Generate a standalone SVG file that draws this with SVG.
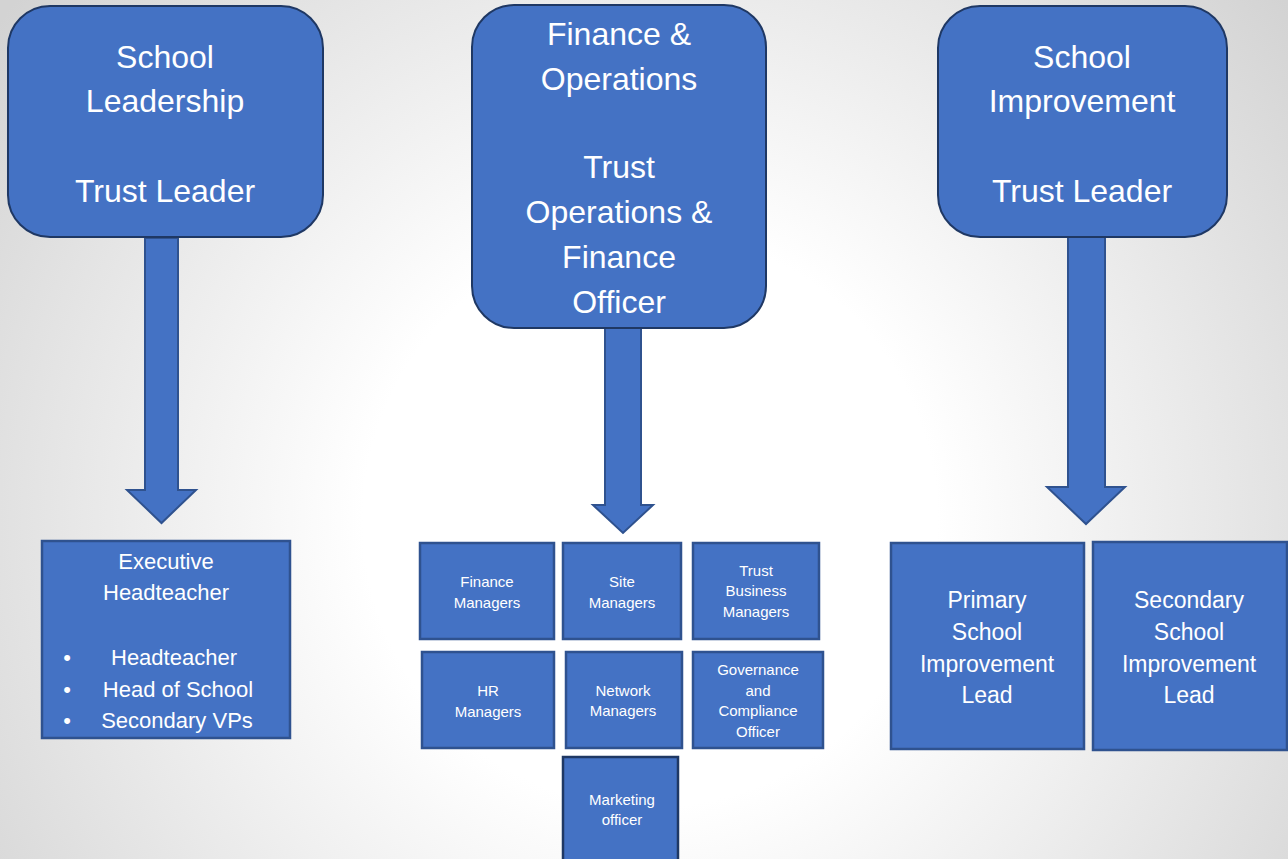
<svg xmlns="http://www.w3.org/2000/svg" width="1288" height="859" viewBox="0 0 1288 859">
<defs>
<radialGradient id="bg" gradientUnits="userSpaceOnUse" cx="650" cy="520" r="820">
<stop offset="0" stop-color="#ffffff"/>
<stop offset="0.35" stop-color="#ffffff"/>
<stop offset="1" stop-color="#d3d3d3"/>
</radialGradient>
<style>
.top{fill:#4472C4;stroke:#1F3864;stroke-width:2}
.box{fill:#4472C4;stroke:#2F528F;stroke-width:2.5}
.arrow{fill:#4472C4;stroke:#2F528F;stroke-width:2}
text{font-family:"Liberation Sans",Arial,sans-serif;fill:#ffffff;text-anchor:middle}
.t32{font-size:32px}
.t23{font-size:23px}
.t22{font-size:22px}
.t15{font-size:15px}
</style>
</defs>
<rect x="0" y="0" width="1288" height="859" fill="url(#bg)"/>

<g id="connectors">
<polygon class="arrow" points="145,238 178,238 178,490 196,490 161.5,523 127,490 145,490"/>
<polygon class="arrow" points="605,328 641,328 641,505 653,505 623,533 593,505 605,505"/>
<polygon class="arrow" points="1068,237 1105,237 1105,487 1125,487 1086,524 1047,487 1068,487"/>
</g>

<g id="school-leadership">
<rect class="top" x="8" y="6" width="315" height="231" rx="42"/>
<text class="t32" x="165" y="68">School</text>
<text class="t32" x="165" y="112">Leadership</text>
<text class="t32" x="165" y="202">Trust Leader</text>
</g>

<g id="finance-operations">
<rect class="top" x="472" y="5" width="294" height="323" rx="42"/>
<text class="t32" x="619" y="45">Finance &amp;</text>
<text class="t32" x="619" y="90">Operations</text>
<text class="t32" x="619" y="178">Trust</text>
<text class="t32" x="619" y="223">Operations &amp;</text>
<text class="t32" x="619" y="268">Finance</text>
<text class="t32" x="619" y="313">Officer</text>
</g>

<g id="school-improvement">
<rect class="top" x="938" y="6" width="289" height="231" rx="42"/>
<text class="t32" x="1082" y="68">School</text>
<text class="t32" x="1082" y="112">Improvement</text>
<text class="t32" x="1082" y="202">Trust Leader</text>
</g>

<g id="executive-headteacher">
<rect class="box" x="42" y="541" width="248" height="197"/>
<text class="t22" x="166" y="569">Executive</text>
<text class="t22" x="166" y="600">Headteacher</text>
<text class="t22" x="67" y="665">•</text>
<text class="t22" x="67" y="697">•</text>
<text class="t22" x="67" y="728">•</text>
<text class="t22" x="174" y="665">Headteacher</text>
<text class="t22" x="178" y="697">Head of School</text>
<text class="t22" x="177" y="728">Secondary VPs</text>
</g>

<g id="finance-managers">
<rect class="box" x="420" y="543" width="134" height="96"/>
<text class="t15" x="487" y="587">Finance</text>
<text class="t15" x="487" y="608">Managers</text>
</g>
<g id="site-managers">
<rect class="box" x="563" y="543" width="118" height="96"/>
<text class="t15" x="622" y="587">Site</text>
<text class="t15" x="622" y="608">Managers</text>
</g>
<g id="trust-business-managers">
<rect class="box" x="693" y="543" width="126" height="96"/>
<text class="t15" x="756" y="576">Trust</text>
<text class="t15" x="756" y="596">Business</text>
<text class="t15" x="756" y="617">Managers</text>
</g>
<g id="hr-managers">
<rect class="box" x="422" y="652" width="132" height="96"/>
<text class="t15" x="488" y="696">HR</text>
<text class="t15" x="488" y="717">Managers</text>
</g>
<g id="network-managers">
<rect class="box" x="566" y="652" width="116" height="96"/>
<text class="t15" x="623" y="696">Network</text>
<text class="t15" x="623" y="716">Managers</text>
</g>
<g id="governance-compliance">
<rect class="box" x="693" y="652" width="130" height="96"/>
<text class="t15" x="758" y="675">Governance</text>
<text class="t15" x="758" y="696">and</text>
<text class="t15" x="758" y="716">Compliance</text>
<text class="t15" x="758" y="737">Officer</text>
</g>
<g id="marketing-officer">
<rect x="563" y="757" width="115" height="110" fill="#4472C4" stroke="#1F3864" stroke-width="2.5"/>
<text class="t15" x="622" y="805">Marketing</text>
<text class="t15" x="622" y="825">officer</text>
</g>

<g id="primary-improvement">
<rect class="box" x="891" y="543" width="193" height="206"/>
<text class="t23" x="987" y="608">Primary</text>
<text class="t23" x="987" y="640">School</text>
<text class="t23" x="987" y="672">Improvement</text>
<text class="t23" x="987" y="703">Lead</text>
</g>
<g id="secondary-improvement">
<rect class="box" x="1093" y="542" width="194" height="208"/>
<text class="t23" x="1189" y="608">Secondary</text>
<text class="t23" x="1189" y="640">School</text>
<text class="t23" x="1189" y="672">Improvement</text>
<text class="t23" x="1189" y="703">Lead</text>
</g>
</svg>
